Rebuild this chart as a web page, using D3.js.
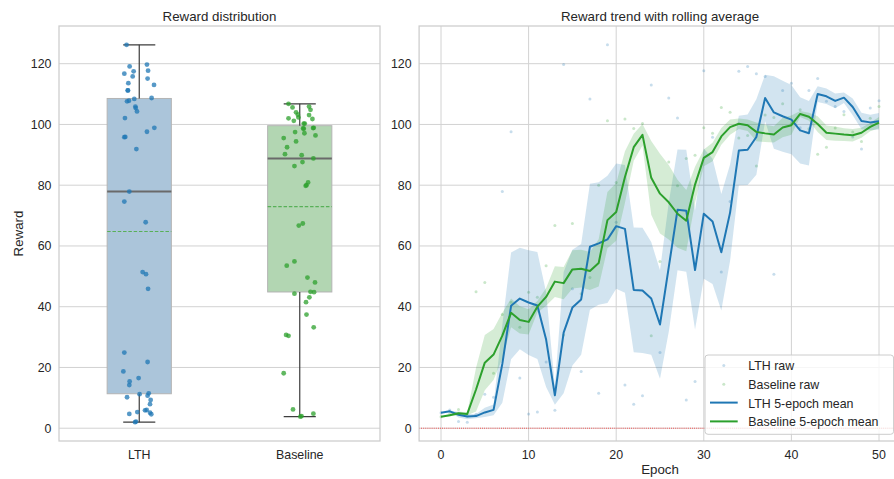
<!DOCTYPE html>
<html>
<head>
<meta charset="utf-8">
<script src="https://cdn.jsdelivr.net/npm/d3@7"></script>
<style>
  html, body { margin: 0; padding: 0; background: #fff; }
  svg { display: block; font-family: "Liberation Sans", Arial, sans-serif; }
</style>
</head>
<body>
<svg id="chart" width="894" height="479"></svg>
<script>
// ---- data -------------------------------------------------------------
const categories = ["LTH", "Baseline"];

// reward per epoch (epochs 0..50)
const lthRaw = [
  5.1, 6.0, 2.2, 2.0, 4.6, 11.2, 10.2, 77.9, 97.6, 16.5,
  4.7, 5.3, 21.8, 5.9, 119.7, 45.9, 18.7, 108.4, 11.5, 126.2,
  67.8, 14.2, 7.9, 10.7, 113.0, 24.9, 108.7, 102.1, 9.3, 15.4,
  117.7, 95.8, 51.4, 74.6, 117.5, 119.1, 116.7, 115.8, 50.7, 111.2,
  113.6, 98.9, 111.2, 115.1, 107.6, 105.9, 104.3, 95.9, 91.9, 105.4,
  107.8
];
const baselineRaw = [
  3.8, 4.8, 6.2, 4.0, 44.9, 48.0, 18.1, 37.4, 41.5, 33.2,
  44.8, 43.1, 53.5, 66.7, 30.7, 67.4, 44.3, 49.6, 80.0, 101.2,
  80.9, 101.8, 98.7, 100.3, 30.4, 54.9, 87.6, 79.8, 88.8, 89.9,
  98.9, 97.1, 105.6, 104.0, 95.5, 96.4, 86.3, 103.1, 102.3, 106.8,
  100.3, 104.8, 98.6, 90.2, 92.5, 98.8, 103.2, 97.5, 94.4, 102.0,
  105.9
];

// horizontal strip offsets (in category units) for each epoch's point
const lthJitter = [
  0.067, 0.046, -0.020, -0.026, 0.075, 0.002, -0.076, -0.062, 0.048, -0.004,
  -0.062, -0.012, 0.052, 0.036, 0.048, 0.055, -0.099, -0.031, 0.059, -0.079,
  0.040, -0.062, 0.067, 0.052, 0.092, -0.093, 0.077, -0.089, 0.071, -0.060,
  0.055, -0.093, 0.021, -0.093, -0.035, -0.060, -0.093, -0.041, 0.042, -0.072,
  -0.068, 0.094, -0.070, 0.052, -0.076, -0.024, -0.014, -0.087, -0.018, -0.022,
  -0.064
];
const baselineJitter = [
  0.004, 0.085, -0.042, 0.011, 0.067, 0.095, -0.100, 0.042, 0.039, 0.087,
  0.089, 0.060, -0.081, -0.006, -0.085, 0.019, -0.033, 0.048, 0.042, -0.037,
  0.052, 0.079, 0.021, 0.025, -0.070, -0.033, 0.017, 0.037, 0.085, 0.012,
  0.087, 0.029, -0.045, -0.023, -0.100, 0.098, -0.033, 0.058, -0.008, -0.070,
  0.031, 0.067, 0.025, -0.092, -0.079, 0.083, -0.012, -0.029, -0.023, -0.070,
  0.058
];

const rewardTicks = [0, 20, 40, 60, 80, 100, 120];
const epochTicks = [0, 10, 20, 30, 40, 50];
const legendLabels = ["LTH raw", "Baseline raw", "LTH 5-epoch mean", "Baseline 5-epoch mean"];
const rollingWindow = 5;

// ---- styling ----------------------------------------------------------
const C = { LTH: "#1f77b4", Baseline: "#2ca02c" };
const BOX_FILL = { LTH: "#abc5da", Baseline: "#b2d6b2" };
const TEXT = "#262626";
const GRID = "#d2d2d2";
const SPINE = "#cccccc";

const svg = d3.select("#chart");
const left = { x0: 59, x1: 380, y0: 26, y1: 441 };
const right = { x0: 419.1, x1: 900.9, y0: 26, y1: 441 };

const seriesByCat = { LTH: lthRaw, Baseline: baselineRaw };
const jitterByCat = { LTH: lthJitter, Baseline: baselineJitter };

// shared reward axis with 5% padding around the data
const allVals = lthRaw.concat(baselineRaw);
const [vMin, vMax] = d3.extent(allVals);
const pad = 0.05 * (vMax - vMin);
const y = d3.scaleLinear().domain([vMin - pad, vMax + pad]).range([left.y1, left.y0]);

// ---- left panel: box + strip -----------------------------------------
const xCat = d3.scaleLinear().domain([-0.5, categories.length - 0.5]).range([left.x0, left.x1]);
const gL = svg.append("g");

gL.append("g").selectAll("line").data(rewardTicks).join("line")
  .attr("x1", left.x0).attr("x2", left.x1)
  .attr("y1", d => y(d)).attr("y2", d => y(d))
  .attr("stroke", GRID).attr("stroke-width", 1);

function boxStats(vals) {
  const s = vals.slice().sort(d3.ascending);
  const q1 = d3.quantileSorted(s, 0.25), med = d3.quantileSorted(s, 0.5), q3 = d3.quantileSorted(s, 0.75);
  const iqr = q3 - q1;
  const lo = d3.min(s.filter(v => v >= q1 - 1.5 * iqr));
  const hi = d3.max(s.filter(v => v <= q3 + 1.5 * iqr));
  return { q1, med, q3, lo, hi, mean: d3.mean(s) };
}

const halfBox = 0.2;
categories.forEach((cat, i) => {
  const st = boxStats(seriesByCat[cat]);
  const g = gL.append("g");
  g.append("rect")
    .attr("x", xCat(i - halfBox)).attr("width", xCat(i + halfBox) - xCat(i - halfBox))
    .attr("y", y(st.q3)).attr("height", y(st.q1) - y(st.q3))
    .attr("fill", BOX_FILL[cat]).attr("stroke", "#b4b4b4").attr("stroke-width", 1);
  // whiskers and caps
  [[st.q3, st.hi], [st.q1, st.lo]].forEach(([a, b]) => {
    g.append("line").attr("x1", xCat(i)).attr("x2", xCat(i)).attr("y1", y(a)).attr("y2", y(b))
      .attr("stroke", "#3d3d3d").attr("stroke-width", 1.2);
    g.append("line").attr("x1", xCat(i - halfBox / 2)).attr("x2", xCat(i + halfBox / 2))
      .attr("y1", y(b)).attr("y2", y(b)).attr("stroke", "#3d3d3d").attr("stroke-width", 1.2);
  });
  // median
  g.append("line").attr("x1", xCat(i - halfBox)).attr("x2", xCat(i + halfBox))
    .attr("y1", y(st.med)).attr("y2", y(st.med)).attr("stroke", "#6a6a6a").attr("stroke-width", 2);
  // mean
  g.append("line").attr("x1", xCat(i - halfBox)).attr("x2", xCat(i + halfBox))
    .attr("y1", y(st.mean)).attr("y2", y(st.mean))
    .attr("stroke", "#58b058").attr("stroke-width", 1.1).attr("stroke-dasharray", "3.5,1.8");
});

categories.forEach((cat, i) => {
  const vals = seriesByCat[cat], jit = jitterByCat[cat];
  gL.append("g").selectAll("circle").data(vals).join("circle")
    .attr("cx", (d, k) => xCat(i + jit[k])).attr("cy", d => y(d))
    .attr("r", 2.4).attr("fill", C[cat]).attr("fill-opacity", 0.75);
});

gL.append("rect").attr("x", left.x0).attr("y", left.y0)
  .attr("width", left.x1 - left.x0).attr("height", left.y1 - left.y0)
  .attr("fill", "none").attr("stroke", SPINE).attr("stroke-width", 1.25);

// axis labels
gL.append("g").selectAll("text").data(rewardTicks).join("text")
  .attr("x", left.x0 - 7.5).attr("y", d => y(d)).attr("dy", "0.35em")
  .attr("text-anchor", "end").attr("font-size", 12.4).attr("fill", TEXT).text(d => d);
gL.append("g").selectAll("text").data(categories).join("text")
  .attr("x", (d, i) => xCat(i)).attr("y", 459)
  .attr("text-anchor", "middle").attr("font-size", 12.4).attr("fill", TEXT).text(d => d);
gL.append("text").attr("transform", `translate(23,${(left.y0 + left.y1) / 2}) rotate(-90)`)
  .attr("text-anchor", "middle").attr("font-size", 13.3).attr("fill", TEXT).text("Reward");
gL.append("text").attr("x", (left.x0 + left.x1) / 2).attr("y", 21)
  .attr("text-anchor", "middle").attr("font-size", 13.3).attr("fill", TEXT).text("Reward distribution");

// ---- right panel: trend ----------------------------------------------
const x = d3.scaleLinear().domain([-2.5, 52.5]).range([right.x0, right.x1]);
const gR = svg.append("g");

gR.append("g").selectAll("line").data(rewardTicks).join("line")
  .attr("x1", right.x0).attr("x2", right.x1)
  .attr("y1", d => y(d)).attr("y2", d => y(d))
  .attr("stroke", GRID).attr("stroke-width", 1);
gR.append("g").selectAll("line").data(epochTicks).join("line")
  .attr("x1", d => x(d)).attr("x2", d => x(d))
  .attr("y1", right.y0).attr("y2", right.y1)
  .attr("stroke", GRID).attr("stroke-width", 1);

// trailing window mean with standard-error spread
function rolling(vals, w) {
  return vals.map((_, i) => {
    const win = vals.slice(Math.max(0, i - w + 1), i + 1);
    const m = d3.mean(win);
    const sd = Math.sqrt(d3.mean(win, v => (v - m) * (v - m)));
    const se = sd / Math.sqrt(win.length);
    return { epoch: i, mean: m, lo: m - se, hi: m + se };
  });
}

categories.forEach(cat => {
  gR.append("g").selectAll("circle").data(seriesByCat[cat]).join("circle")
    .attr("cx", (d, i) => x(i)).attr("cy", d => y(d))
    .attr("r", 1.5).attr("fill", C[cat]).attr("fill-opacity", 0.25);
});

const rolled = {};
categories.forEach(cat => { rolled[cat] = rolling(seriesByCat[cat], rollingWindow); });

const area = d3.area().x(d => x(d.epoch)).y0(d => y(d.lo)).y1(d => y(d.hi));
const line = d3.line().x(d => x(d.epoch)).y(d => y(d.mean));

categories.forEach(cat => {
  gR.append("path").datum(rolled[cat]).attr("d", area)
    .attr("fill", C[cat]).attr("fill-opacity", 0.2).attr("stroke", "none");
});
categories.forEach(cat => {
  gR.append("path").datum(rolled[cat]).attr("d", line)
    .attr("fill", "none").attr("stroke", C[cat]).attr("stroke-width", 2)
    .attr("stroke-linejoin", "round");
});

// zero reference
gR.append("line").attr("x1", right.x0).attr("x2", right.x1)
  .attr("y1", y(0)).attr("y2", y(0))
  .attr("stroke", "red").attr("stroke-width", 0.8).attr("stroke-dasharray", "0.8,1.3");

// spines
gR.append("rect").attr("x", right.x0).attr("y", right.y0)
  .attr("width", right.x1 - right.x0).attr("height", right.y1 - right.y0)
  .attr("fill", "none").attr("stroke", SPINE).attr("stroke-width", 1.25);

gR.append("g").selectAll("text").data(rewardTicks).join("text")
  .attr("x", right.x0 - 7.5).attr("y", d => y(d)).attr("dy", "0.35em")
  .attr("text-anchor", "end").attr("font-size", 12.4).attr("fill", TEXT).text(d => d);
gR.append("g").selectAll("text").data(epochTicks).join("text")
  .attr("x", d => x(d)).attr("y", 459)
  .attr("text-anchor", "middle").attr("font-size", 12.4).attr("fill", TEXT).text(d => d);
gR.append("text").attr("x", (right.x0 + right.x1) / 2).attr("y", 473.5)
  .attr("text-anchor", "middle").attr("font-size", 13.3).attr("fill", TEXT).text("Epoch");
gR.append("text").attr("x", (right.x0 + right.x1) / 2).attr("y", 21)
  .attr("text-anchor", "middle").attr("font-size", 13.3).attr("fill", TEXT).text("Reward trend with rolling average");

// legend
const lg = svg.append("g");
lg.append("rect").attr("x", 705).attr("y", 355).attr("width", 188.6).attr("height", 79.3)
  .attr("rx", 3).attr("fill", "#fff").attr("fill-opacity", 0.8)
  .attr("stroke", "#cccccc").attr("stroke-width", 1);
const rowY = [370, 388.8, 407.6, 426.4];
legendLabels.forEach((lab, k) => {
  const cat = categories[k % 2];
  if (k < 2) {
    lg.append("circle").attr("cx", 723.8).attr("cy", rowY[k] - 4.5).attr("r", 1.5)
      .attr("fill", C[cat]).attr("fill-opacity", 0.25);
  } else {
    lg.append("line").attr("x1", 710).attr("x2", 737.7)
      .attr("y1", rowY[k] - 5).attr("y2", rowY[k] - 5)
      .attr("stroke", C[cat]).attr("stroke-width", 2);
  }
  lg.append("text").attr("x", 748.3).attr("y", rowY[k])
    .attr("font-size", 12.4).attr("fill", TEXT).text(lab);
});
</script>
</body>
</html>
